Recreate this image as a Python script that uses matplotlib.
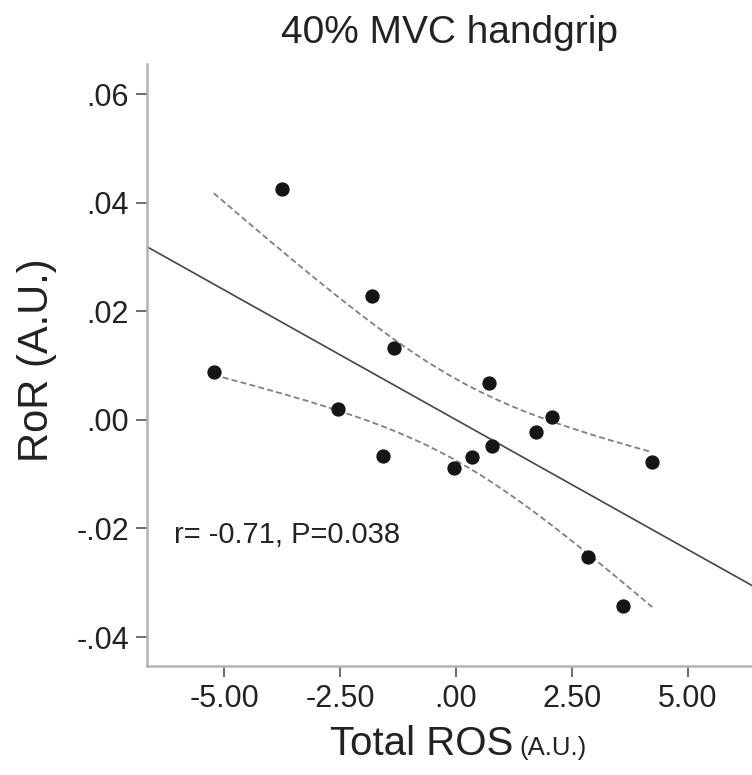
import numpy as np
import matplotlib

matplotlib.use("Agg")
import matplotlib.pyplot as plt
from matplotlib.ticker import FixedLocator, FuncFormatter


# Total ROS (A.U.) and RoR (A.U.) per subject
ros = [-5.22, -3.74, -2.54, -1.82, -1.57, -1.34, -0.04, 0.34,
       0.71, 0.78, 1.72, 2.06, 2.84, 3.61, 4.23]
ror = [0.0089, 0.0426, 0.0020, 0.0229, -0.0066, 0.0132, -0.0088, -0.0068,
       0.0069, -0.0048, -0.0023, 0.0005, -0.0252, -0.0343, -0.0077]

x_ticks = [-5.0, -2.5, 0.0, 2.5, 5.0]
y_ticks = [-0.04, -0.02, 0.00, 0.02, 0.04, 0.06]

title = "40% MVC handgrip"
x_label = "Total ROS"
x_unit = "(A.U.)"
y_label = "RoR (A.U.)"
stats_text = "r= -0.71, P=0.038"

T_975_DF13 = 2.160  # two-sided 95% t value for n-2 = 13


def spss_fmt(v, pos=None):
    s = f"{v:.2f}"
    return s.replace("0.", ".", 1) if s.lstrip("-").startswith("0.") else s


def fit_line(x, y):
    x = np.asarray(x)
    y = np.asarray(y)
    slope, intercept = np.polyfit(x, y, 1)
    resid = y - (slope * x + intercept)
    s = np.sqrt(np.sum(resid ** 2) / (len(x) - 2))
    sxx = np.sum((x - x.mean()) ** 2)
    return slope, intercept, s, sxx, x.mean(), len(x)


def plot(ax):
    slope, intercept, s, sxx, xm, n = fit_line(ros, ror)

    xlim = (-6.66, 6.38)
    xs = np.linspace(*xlim, 50)
    ax.plot(xs, slope * xs + intercept, color="#454545", lw=1.2, zorder=2)

    # 95% confidence band of the mean, over the data range
    xc = np.linspace(min(ros), max(ros), 200)
    yc = slope * xc + intercept
    half = T_975_DF13 * s * np.sqrt(1 / n + (xc - xm) ** 2 / sxx)
    for sign in (1, -1):
        ax.plot(xc, yc + sign * half, color="#808080", lw=1.3,
                linestyle=(0, (3.3, 1.8)), zorder=2)

    ax.plot(ros, ror, "o", color="#151515", ms=9.3, zorder=3)

    ax.set_xlim(*xlim)
    ax.set_ylim(-0.04534, 0.0656)
    ax.xaxis.set_major_locator(FixedLocator(x_ticks))
    ax.yaxis.set_major_locator(FixedLocator(y_ticks))
    ax.xaxis.set_major_formatter(FuncFormatter(spss_fmt))
    ax.yaxis.set_major_formatter(FuncFormatter(spss_fmt))

    for side in ("top", "right"):
        ax.spines[side].set_visible(False)
    for side in ("left", "bottom"):
        ax.spines[side].set_color("#b3b3b3")
        ax.spines[side].set_linewidth(1.8)

    ax.tick_params(direction="out", length=8, width=1.2, color="#555555",
                   labelsize=22, labelcolor="#222222", pad=5)

    ax.text(0.045, 0.204, stats_text, transform=ax.transAxes,
            fontsize=21, color="#222222", va="baseline", ha="left")


def main():
    plt.rcParams["font.family"] = ["Liberation Sans", "DejaVu Sans"]
    W, H = 752, 775
    fig = plt.figure(figsize=(W / 100, H / 100), dpi=100)
    ax = fig.add_axes([147 / W, (H - 666) / H, 605 / W, 602 / H])
    plot(ax)

    fig.text(449.5 / W, 1 - 43 / H, title, fontsize=28, color="#222222",
             ha="center", va="baseline")
    fig.text(513 / W, 1 - 755 / H, x_label, fontsize=29, color="#222222",
             ha="right", va="baseline")
    fig.text(519 / W, 1 - 755 / H, x_unit, fontsize=18.5, color="#222222",
             ha="left", va="baseline")
    fig.text(37 / W, 1 - 360 / H, y_label, fontsize=30, color="#222222",
             ha="center", va="center", rotation=90)

    fig.savefig("out.png", dpi=100, facecolor="white")


if __name__ == "__main__":
    main()
